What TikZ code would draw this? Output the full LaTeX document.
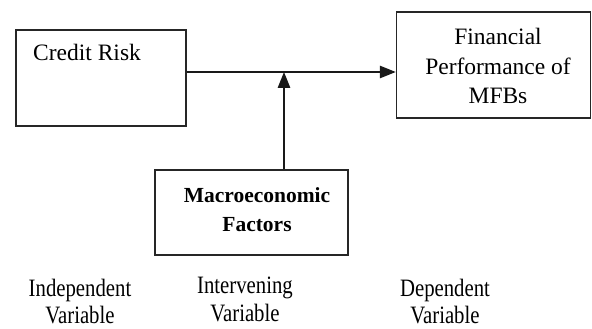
\documentclass[tikz,border=0pt]{standalone}
\usepackage{fontspec}
\setmainfont{Liberation Serif}
\newfontfamily\narrowserif[FakeStretch=0.83]{Liberation Serif}
\usetikzlibrary{arrows.meta}
\begin{document}
\begin{tikzpicture}[x=1pt,y=-1pt,
  box/.style={draw=black!85,line width=1.5pt,inner sep=0pt},
  txt/.style={inner sep=0pt,anchor=base,font=\fontsize{23.5}{29}\selectfont},
  btxt/.style={inner sep=0pt,anchor=base,font=\fontsize{21.5}{29}\selectfont\bfseries},
  lbl/.style={inner sep=0pt,anchor=base,font=\narrowserif\fontsize{25}{29}\selectfont},
  conn/.style={draw=black!90,line width=1.4pt},
  arr/.style={conn,-{Triangle[length=16pt,width=12.5pt]}}]
\useasboundingbox (0,0) rectangle (592,329);
% boxes
\node[box,minimum width=170pt,minimum height=96pt] (credit) at (101,78) {};
\node[box,minimum width=194pt,minimum height=106pt] (fin) at (493.5,65) {};
\node[box,minimum width=193pt,minimum height=85pt] (macro) at (251.5,212.5) {};
% texts
\node[txt,anchor=base west] (creditT) at (33,61) {Credit Risk};
\node[txt] (finT1) at (498,45) {Financial};
\node[txt] (finT2) at (498,75) {Performance of};
\node[txt] (finT3) at (498,103) {MFBs};
\node[btxt] (macT1) at (257,202) {Macroeconomic};
\node[btxt] (macT2) at (257,231) {Factors};
% connectors
\coordinate (j) at (284,72);
\draw[arr] (credit.east |- j) -- (fin.west |- j);
\draw[arr] (macro.north -| j) -- (j);
% bottom labels
\node[lbl] (ind1) at (80,296) {Independent};
\node[lbl] (ind2) at (80,323) {Variable};
\node[lbl] (int1) at (245,293) {Intervening};
\node[lbl] (int2) at (245,321) {Variable};
\node[lbl] (dep1) at (445,296) {Dependent};
\node[lbl] (dep2) at (445,323) {Variable};
\end{tikzpicture}
\end{document}
